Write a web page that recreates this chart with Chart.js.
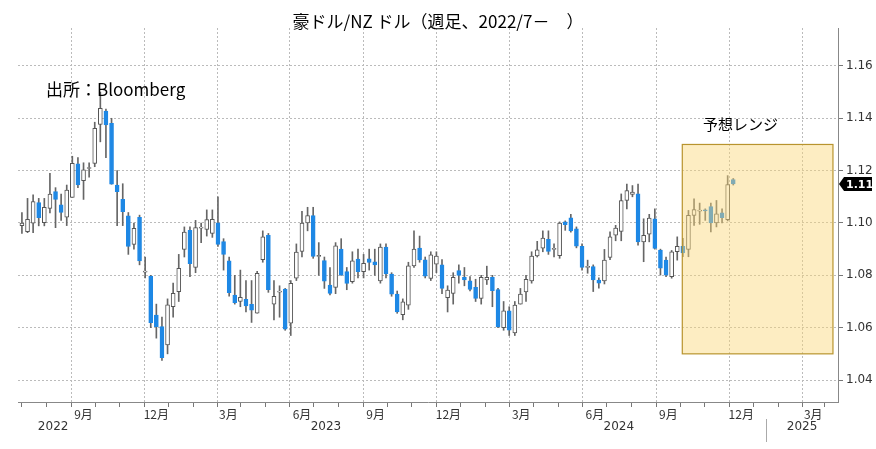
<!DOCTYPE html>
<html><head><meta charset="utf-8">
<script src="https://cdn.jsdelivr.net/npm/chart.js@4"></script>
<style>html,body{margin:0;padding:0;background:#fff}#w{width:876px;height:449px}</style>
</head><body><div id="w"><canvas id="c"></canvas></div>
<script>
const startDate = new Date(2022,5,16); // week index 0
const opens = [1.099,1.0967,1.0999,1.1078,1.1001,1.1056,1.1120,1.1069,1.1022,1.1098,1.1226,1.1162,1.1208,1.1228,1.1377,1.1428,1.1381,1.1145,1.1090,1.1027,1.0918,1.1022,1.0812,1.0797,1.0648,1.0604,1.0534,1.0680,1.0738,1.0899,1.0972,1.0830,1.0980,1.0975,1.0960,1.1001,1.0929,1.0855,1.0725,1.0700,1.0708,1.0689,1.0655,1.0860,1.0953,1.0690,1.0736,1.0747,1.0617,1.0789,
1.0891,1.1000,1.1028,1.0872,1.0856,1.0763,1.0754,1.0900,1.0814,1.0776,1.0862,1.0814,1.0863,1.0852,1.0779,1.0908,1.0805,1.0728,1.0650,1.0686,1.0836,1.0904,1.0859,1.0788,1.0843,1.0840,1.0715,1.0731,1.0818,1.0792,1.0779,1.0754,1.0712,1.0782,1.0792,1.0746,1.0600,1.0664,1.0580,1.0690,1.0737,1.0779,1.0874,1.0904,1.0938,1.0899,
1.0875,1.1004,1.1020,1.0978,1.0911,1.0830,1.0833,1.0782,1.0779,1.0868,1.0953,1.0968,1.1086,1.1109,1.1111,1.0928,1.0957,1.1016,1.0896,1.0858,1.0795,1.0890,1.0911,1.0899,1.1029,1.1045,1.1046,1.1063,1.1000,1.1039,1.1013,1.1166];
const highs = [1.104,1.1094,1.1108,1.1094,1.1094,1.1190,1.1135,1.1110,1.1145,1.1255,1.1250,1.1230,1.1230,1.1385,1.1500,1.1435,1.1400,1.1200,1.1150,1.1040,1.1000,1.1030,1.0870,1.0800,1.0690,1.0640,1.0710,1.0770,1.0880,1.0985,1.0985,1.1010,1.1000,1.1050,1.1050,1.1100,1.0940,1.0870,1.0800,1.0820,1.0780,1.0780,1.0815,1.0970,1.0960,1.0780,1.0760,1.0750,1.0780,1.0920,
1.1045,1.1060,1.1060,1.0925,1.0870,1.0830,1.0925,1.0940,1.0830,1.0890,1.0900,1.0880,1.0900,1.0900,1.0920,1.0920,1.0810,1.0740,1.0710,1.0850,1.0970,1.0950,1.0870,1.0890,1.0890,1.0860,1.0760,1.0810,1.0840,1.0830,1.0795,1.0785,1.0800,1.0835,1.0800,1.0750,1.0700,1.0680,1.0700,1.0750,1.0800,1.0890,1.0930,1.0970,1.0970,1.0920,
1.1004,1.1008,1.1033,1.0985,1.0920,1.0858,1.0840,1.0790,1.0899,1.0966,1.0991,1.1111,1.1149,1.1143,1.1149,1.1016,1.1033,1.1054,1.0900,1.0870,1.0895,1.0947,1.0941,1.1048,1.1092,1.1076,1.1054,1.1076,1.1086,1.1054,1.1181,1.1170];
const lows = [1.096,1.0963,1.0963,1.0989,1.0989,1.1038,1.0982,1.1010,1.0990,1.1098,1.1135,1.1090,1.1175,1.1215,1.1310,1.1250,1.1148,1.0990,1.0990,1.0880,1.0900,1.0840,1.0790,1.0600,1.0560,1.0475,1.0500,1.0640,1.0700,1.0870,1.0795,1.0810,1.0925,1.0950,1.0945,1.0910,1.0820,1.0720,1.0690,1.0680,1.0660,1.0620,1.0655,1.0850,1.0735,1.0630,1.0640,1.0590,1.0570,1.0780,
1.0870,1.0970,1.0865,1.0800,1.0750,1.0725,1.0730,1.0800,1.0745,1.0770,1.0790,1.0790,1.0820,1.0800,1.0770,1.0790,1.0720,1.0655,1.0630,1.0670,1.0830,1.0850,1.0790,1.0780,1.0810,1.0730,1.0660,1.0690,1.0770,1.0760,1.0740,1.0700,1.0690,1.0765,1.0680,1.0600,1.0590,1.0570,1.0570,1.0690,1.0700,1.0770,1.0870,1.0890,1.0880,1.0870,
1.0865,1.0972,1.0965,1.0905,1.0820,1.0808,1.0738,1.0751,1.0767,1.0860,1.0932,1.0932,1.1054,1.1100,1.0915,1.0852,1.0928,1.0900,1.0801,1.0795,1.0789,1.0858,1.0871,1.0871,1.0991,1.0995,1.1010,1.0966,1.0985,1.1000,1.1008,1.1145];
const closes = [1.100,1.1014,1.1082,1.1020,1.1060,1.1110,1.1090,1.1040,1.1126,1.1228,1.1145,1.1203,1.1212,1.1362,1.1438,1.1375,1.1148,1.1120,1.1043,1.0910,1.0980,1.0855,1.0816,1.0619,1.0604,1.0485,1.0687,1.0731,1.0827,1.0965,1.0845,1.0982,1.0983,1.1013,1.1014,1.0918,1.0880,1.0734,1.0696,1.0716,1.0683,1.0667,1.0808,1.0947,1.0745,1.0720,1.0739,1.0594,1.0769,1.0889,
1.1000,1.1028,1.0872,1.0874,1.0778,1.0731,1.0913,1.0801,1.0769,1.0855,1.0814,1.0846,1.0849,1.0840,1.0908,1.0805,1.0728,1.0660,1.0699,1.0836,1.0900,1.0859,1.0797,1.0878,1.0874,1.0750,1.0744,1.0792,1.0800,1.0782,1.0746,1.0712,1.0792,1.0792,1.0741,1.0603,1.0664,1.0590,1.0686,1.0728,1.0785,1.0874,1.0897,1.0942,1.0891,1.0901,
1.1000,1.0994,1.0970,1.0911,1.0830,1.0833,1.0782,1.0770,1.0858,1.0947,1.0981,1.1086,1.1124,1.1118,1.0928,1.0953,1.1019,1.0903,1.0827,1.0801,1.0890,1.0911,1.0886,1.1029,1.1051,1.1047,1.1045,1.1000,1.1035,1.1020,1.1147,1.1149];
const yTicks = [1.04,1.06,1.08,1.10,1.12,1.14,1.16];
const monthNames = ['1月','2月','3月','4月','5月','6月','7月','8月','9月','10月','11月','12月'];
const years = ['2022','2023','2024','2025'];
const rangeLow = 1.05, rangeHigh = 1.13, rangeStartWeek = 117.9, rangeEndWeek = 144.8;

const wk = d => (d - startDate) / (7*864e5);
const monthTicks = [];
for (let y=2022;y<=2025;y++) for (let m=0;m<12;m++){const v=wk(new Date(y,m,1)); if(v>-0.7&&v<145.7) monthTicks.push({value:v,m:m});}

const wicks = opens.map((o,i)=>({x:i,y:[lows[i],highs[i]]}));
const bodies = opens.map((o,i)=>{let a=o,b=closes[i]; if(Math.abs(a-b)<0.0004){b=a+0.0004;} return {x:i,y:[a,b]};});
const up = opens.map((o,i)=>closes[i]>=o);

const overlay = {
  id:'overlay',
  afterDatasetsDraw(ch){
    const {ctx,scales:{x,y},chartArea:a}=ch;
    ctx.save();
    const x1=x.getPixelForValue(rangeStartWeek),x2=x.getPixelForValue(rangeEndWeek);
    const y1=y.getPixelForValue(rangeHigh),y2=y.getPixelForValue(rangeLow);
    ctx.fillStyle='rgba(250,214,120,0.45)';ctx.fillRect(x1,y1,x2-x1,y2-y1);
    ctx.strokeStyle='#b8942e';ctx.lineWidth=1.2;ctx.strokeRect(x1,y1,x2-x1,y2-y1);
    ctx.fillStyle='#000';ctx.font='17px "Noto Sans CJK JP"';ctx.textAlign='center';ctx.textBaseline='middle';
    ctx.fillText('豪ドル/NZ ドル（週足、2022/7－　）',438,22);
    ctx.textAlign='left';ctx.fillText('出所：Bloomberg',46,90);
    ctx.font='15px "Noto Sans CJK JP"';ctx.fillText('予想レンジ',703,124);
    const last=closes[closes.length-1], ly=y.getPixelForValue(last);
    ctx.fillStyle='#000';ctx.beginPath();ctx.moveTo(a.right+1,ly);ctx.lineTo(a.right+6,ly-7);ctx.lineTo(872,ly-7);ctx.lineTo(872,ly+7);ctx.lineTo(a.right+6,ly+7);ctx.closePath();ctx.fill();
    ctx.fillStyle='#fff';ctx.font='bold 11px "DejaVu Sans"';ctx.fillText(last.toFixed(2),a.right+8,ly+1);
    ctx.fillStyle='#333';ctx.font='12px "DejaVu Sans"';ctx.textAlign='center';
    const yPos=[wk(new Date(2022,7,15))-3,wk(new Date(2023,6,1)),wk(new Date(2024,6,1)),wk(new Date(2025,1,15))];
    years.forEach((t,i)=>ctx.fillText(t,x.getPixelForValue(yPos[i]),a.bottom+25));
    ctx.strokeStyle='#aaa';ctx.lineWidth=1;
    [2025].forEach(yy=>{const px=Math.round(x.getPixelForValue(wk(new Date(yy,0,1))))+0.5;ctx.beginPath();ctx.moveTo(px,a.bottom+17);ctx.lineTo(px,a.bottom+40);ctx.stroke();});
    ctx.restore();
  }
};

new Chart(document.getElementById('c'),{
  type:'bar',
  data:{datasets:[
    {data:wicks,backgroundColor:'#666',barThickness:1,grouped:false,order:2},
    {data:bodies,backgroundColor:up.map(u=>u?'#ffffff':'#1e88e5'),borderColor:up.map(u=>u?'#555':'#1e88e5'),borderWidth:1,borderSkipped:false,barThickness:4,grouped:false,order:1}
  ]},
  options:{
    responsive:true,maintainAspectRatio:false,animation:false,
    layout:{padding:{top:28,left:18,right:0,bottom:0}},
    plugins:{legend:{display:false},tooltip:{enabled:false}},
    scales:{
      x:{type:'linear',min:-0.7,max:145.7,offset:false,
        afterBuildTicks:s=>{s.ticks=monthTicks.map(t=>({value:t.value}));},
        afterFit:s=>{s.height=47;},
        ticks:{autoSkip:false,maxRotation:0,color:'#333',font:{size:12,family:'"Noto Sans CJK JP"'},padding:0,
          callback:(v,i)=>{const t=monthTicks[i];return t&&t.m%3===2?monthNames[t.m]:'';}},
        grid:{color:c=>{const t=monthTicks[c.index];return t&&t.m%3===2?'#bbb':'rgba(0,0,0,0)';},
          tickColor:'#777',tickLength:5,lineWidth:1,drawTicks:true},
        border:{display:true,color:'#888',dash:[2,2]}
      },
      y:{position:'right',min:1.0316,max:1.1745,
        afterBuildTicks:s=>{s.ticks=yTicks.map(v=>({value:v}));},
        afterFit:s=>{s.width=38;},
        ticks:{color:'#333',font:{size:12,family:'"DejaVu Sans"'},padding:3,callback:v=>v.toFixed(2)},
        grid:{color:'#bbb',tickColor:'#777',tickLength:5},
        border:{color:'#888',dash:[2,2]}
      }
    }
  },
  plugins:[overlay]
});
</script></body></html>
